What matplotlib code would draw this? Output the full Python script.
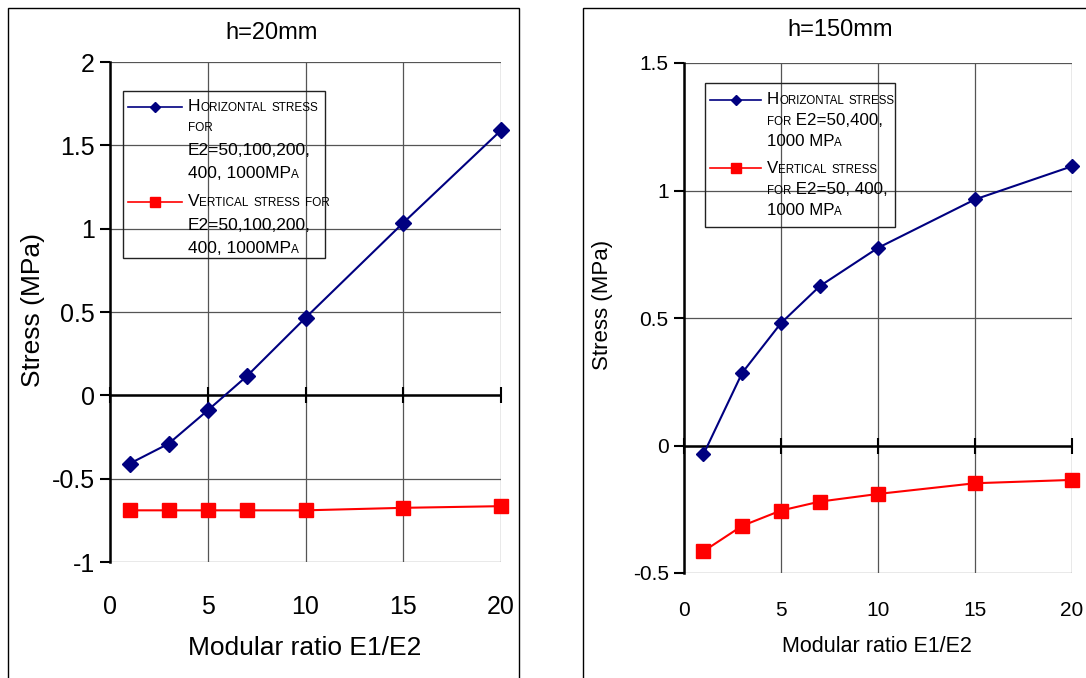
import numpy as np
import matplotlib
matplotlib.use("Agg")
import matplotlib.pyplot as plt
from matplotlib.patches import Rectangle
from matplotlib.lines import Line2D
from matplotlib.offsetbox import (AnchoredOffsetbox, DrawingArea, HPacker,
                                  TextArea, VPacker)

plt.rcParams['font.family'] = ['Liberation Sans', 'DejaVu Sans']

# data
ratio = [1, 3, 5, 7, 10, 15, 20]

h20_horizontal = [-0.41, -0.29, -0.09, 0.115, 0.465, 1.035, 1.59]
h20_vertical = [-0.69, -0.69, -0.69, -0.69, -0.69, -0.675, -0.665]

h150_horizontal = [-0.035, 0.285, 0.48, 0.625, 0.775, 0.965, 1.095]
h150_vertical = [-0.415, -0.315, -0.255, -0.22, -0.19, -0.148, -0.135]

xticks = [0, 5, 10, 15, 20]
h20_yticks = [-1, -0.5, 0, 0.5, 1, 1.5, 2]
h20_ylabels = ['-1', '-0.5', '0', '0.5', '1', '1.5', '2']
h150_yticks = [-0.5, 0, 0.5, 1, 1.5]
h150_ylabels = ['-0.5', '0', '0.5', '1', '1.5']

h20_legend = [["Horizontal stress", "for", "E2=50,100,200,", "400, 1000MPa"],
              ["Vertical stress for", "E2=50,100,200,", "400, 1000MPa"]]
h150_legend = [["Horizontal stress", "for E2=50,400,", "1000 MPa"],
               ["Vertical stress", "for E2=50, 400,", "1000 MPa"]]

BLUE = '#000080'
RED = '#ff0000'
W, H = 1086, 678


def px(x, y):
    # pixel position -> figure fraction
    return x / W, 1 - y / H


def smallcaps(line, big, small):
    # lower case letters drawn as smaller capitals
    runs = []
    for ch in line:
        low = ch.islower()
        if runs and runs[-1][1] == low:
            runs[-1][0] += ch
        else:
            runs.append([ch, low])
    boxes = [TextArea(s.upper(), textprops=dict(size=small if low else big))
             for s, low in runs]
    return HPacker(children=boxes, align='baseline', pad=0, sep=0)


def add_legend(fig, entries, frame, anchor, sizes, linesep, entrysep,
               handle_w):
    big, small = sizes
    styles = [(BLUE, 'D', 5.5), (RED, 's', 7.5)]
    rows = []
    for lines, (color, marker, ms) in zip(entries, styles):
        da = DrawingArea(handle_w, 11, 0, 0)
        da.add_artist(Line2D([0, handle_w], [5.5, 5.5], color=color, lw=1.2))
        da.add_artist(Line2D([handle_w / 2], [5.5], color=color, marker=marker,
                             ms=ms, ls='none'))
        text = VPacker(children=[smallcaps(l, big, small) for l in lines],
                       align='left', pad=0, sep=linesep)
        rows.append(HPacker(children=[da, text], align='top', pad=0, sep=4))
    box = VPacker(children=rows, align='left', pad=0, sep=entrysep)
    ab = AnchoredOffsetbox(loc='upper left', child=box, pad=0, borderpad=0,
                           frameon=False, bbox_to_anchor=px(*anchor),
                           bbox_transform=fig.transFigure)
    fig.add_artist(ab)
    x0, y0, x1, y1 = frame
    fig.add_artist(Rectangle(px(x0, y1), (x1 - x0) / W, (y1 - y0) / H,
                             transform=fig.transFigure, fill=False,
                             edgecolor='#222222', lw=1))


def setup(ax, yticks, ylabels, ylim, fs, xpad):
    ax.set_xlim(0, 20)
    ax.set_ylim(*ylim)
    ax.set_xticks(xticks)
    ax.set_xticklabels([str(x) for x in xticks])
    ax.set_yticks(yticks)
    ax.set_yticklabels(ylabels)
    ax.grid(True, color='#555555', lw=0.9)
    ax.set_axisbelow(True)
    for s in ['top', 'right', 'bottom']:
        ax.spines[s].set_visible(False)
    ax.spines['left'].set_linewidth(1.8)
    ax.tick_params(axis='y', direction='out', length=7, width=1.5,
                   labelsize=fs, pad=4)
    ax.tick_params(axis='x', length=0, labelsize=fs, pad=xpad)
    ax.axhline(0, color='black', lw=1.8, zorder=2)
    ax.plot(xticks, np.zeros(len(xticks)), ls='none', marker='|', ms=11,
            mew=1.5, color='black', clip_on=False, zorder=2)


fig = plt.figure(figsize=(W / 100, H / 100), dpi=100)

# outer frames of both panels
fig.add_artist(Rectangle(px(8, 690), 511 / W, 682 / H,
                         transform=fig.transFigure, fill=False,
                         edgecolor='black', lw=1))
fig.add_artist(Rectangle(px(583, 690), 520 / W, 682 / H,
                         transform=fig.transFigure, fill=False,
                         edgecolor='black', lw=1))

# left panel, h=20mm
ax1 = fig.add_axes([110 / W, 1 - 562 / H, 391 / W, 500 / H])
setup(ax1, h20_yticks, h20_ylabels, (-1, 2), 18, 24)
ax1.plot(ratio, h20_horizontal, color=BLUE, lw=1.5, marker='D', ms=8,
         clip_on=False, zorder=3)
ax1.plot(ratio, h20_vertical, color=RED, lw=1.5, marker='s', ms=9.5,
         clip_on=False, zorder=3)
ax1.set_xlabel('Modular ratio E1/E2', fontsize=19)
ax1.xaxis.set_label_coords(0.499, -0.172)
ax1.xaxis.label.set_va('center')
ax1.set_ylabel('Stress (MPa)', fontsize=19)
ax1.yaxis.set_label_coords(-0.197, 0.504)
ax1.yaxis.label.set_va('center')
fig.text(*px(272, 33), 'h=20mm', fontsize=17, ha='center', va='center')
add_legend(fig, h20_legend, (123, 91, 325, 258), (128, 99), (12.5, 8.5),
           6.0, 9.5, 39)

# right panel, h=150mm
ax2 = fig.add_axes([684 / W, 1 - 573 / H, 388 / W, 510 / H])
setup(ax2, h150_yticks, h150_ylabels, (-0.5, 1.5), 15, 20)
ax2.plot(ratio, h150_horizontal, color=BLUE, lw=1.5, marker='D', ms=7.5,
         clip_on=False, zorder=3)
ax2.plot(ratio, h150_vertical, color=RED, lw=1.5, marker='s', ms=10,
         clip_on=False, zorder=3)
ax2.set_xlabel('Modular ratio E1/E2', fontsize=15.5)
ax2.xaxis.set_label_coords(0.497, -0.145)
ax2.xaxis.label.set_va('center')
ax2.set_ylabel('Stress (MPa)', fontsize=16)
ax2.yaxis.set_label_coords(-0.209, 0.525)
ax2.yaxis.label.set_va('center')
fig.text(*px(840, 30), 'h=150mm', fontsize=17, ha='center', va='center')
add_legend(fig, h150_legend, (705, 83, 895, 227), (710, 92), (12.2, 8.3),
           4.5, 8, 37)

fig.savefig('out.png', dpi=100)
